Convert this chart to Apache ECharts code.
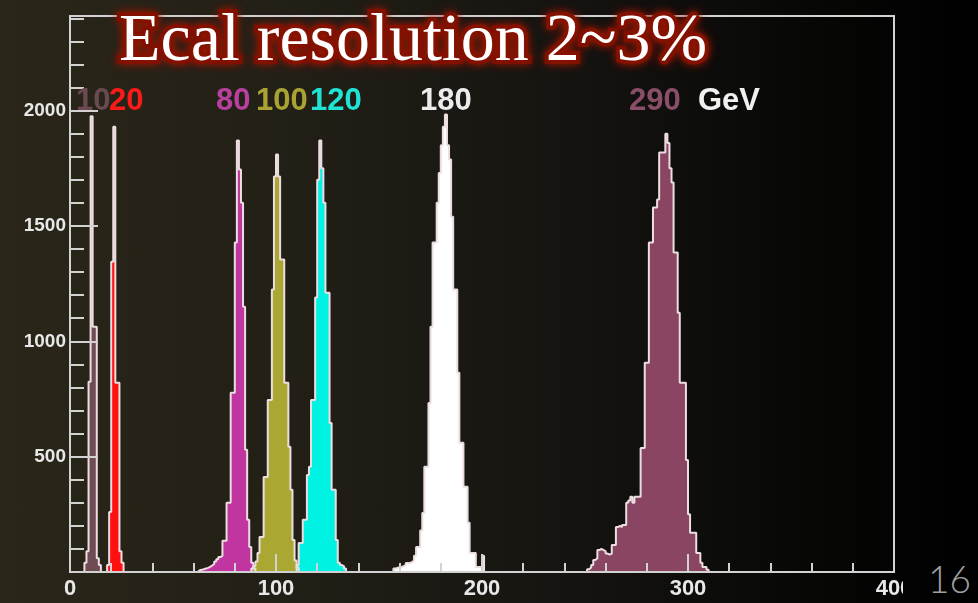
<!DOCTYPE html>
<html>
<head>
<meta charset="utf-8">
<script src="https://cdn.jsdelivr.net/npm/echarts@6/dist/echarts.min.js"></script>
<style>
  html, body { margin: 0; padding: 0; width: 978px; height: 603px; overflow: hidden;
    background: linear-gradient(to right, #2a2619 0%, #221f16 30%, #141310 60%, #060605 85%, #000 100%); }
  #chart { position: absolute; left: 0; top: 0; width: 903px; height: 603px; }
  #pageNo { position: absolute; left: 928px; top: 556px; font: 300 37px Lato, Roboto, sans-serif; color: #a0a0a0; }
</style>
</head>
<body>
<div id="chart"></div>
<div id="pageNo">16</div>
<script>
// Energy histograms, 1 GeV bins. Each beam energy: first bin (GeV) and counts per bin.
const beamLabels = ['10', '20', '80', '100', '120', '180', '290'];

const start10 = 7;
const counts10 = [40, 90, 825, 1975, 1063, 1063, 60, 30];

const start20 = 18;
const counts20 = [30, 260, 1345, 1930, 820, 820, 90, 40];

const start80 = 62;
const counts80 = [8, 10, 12, 15, 18, 22, 28, 35, 45, 55, 65, 70, 135, 135, 300, 300,
  777, 777, 1428, 1870, 1745, 1600, 1150, 530, 226, 108, 40, 15];

const start100 = 88;
const counts100 = [15, 25, 45, 82, 152, 152, 412, 412, 746, 746, 1224, 1714, 1810,
  1714, 1354, 1354, 820, 820, 543, 356, 139, 50, 20];

const start120 = 110;
const counts120 = [30, 126, 126, 226, 226, 420, 456, 746, 746, 1190, 1700, 1870, 1750,
  1600, 1210, 1210, 646, 356, 356, 139, 40, 30, 25, 15];

const start180 = 157;
const counts180 = [15, 18, 20, 22, 25, 30, 39, 39, 42, 50, 70, 108, 108, 180, 256, 456,
  456, 733, 1063, 1428, 1428, 1600, 1730, 1850, 1930, 1983, 1850, 1788, 1540, 1224,
  1224, 864, 560, 560, 369, 369, 213, 82, 82, 82, 22, 22, 22, 70];

const start290 = 251;
const counts290 = [12, 20, 30, 52, 60, 95, 100, 95, 90, 80, 75, 80, 117, 117, 195, 200,
  195, 204, 204, 300, 310, 326, 300, 326, 326, 326, 538, 538, 907, 907, 1428, 1428,
  1580, 1580, 1615, 1818, 1818, 1818, 1900, 1860, 1750, 1688, 1385, 1385, 1124, 820,
  820, 820, 486, 250, 170, 170, 170, 82, 82, 40, 22, 22, 10];

const xTicks = [0, 100, 200, 300, 400];
const yTicks = [500, 1000, 1500, 2000];

const fills = ['#6f4c55', '#ff1010', '#c0359f', '#aaa833', '#00f3e2', '#ffffff', '#8a4562'];
const labelColors = ['#6a4a50', '#ff1a1a', '#b8409f', '#a8a332', '#1fe3d3', '#ececec', '#8a4f68'];
const outline = '#ecdde1';

// Build bin-edge points for a stepped outline closed at zero on both sides.
function histPoints(start, counts) {
  const pts = [[start - 1, 0]];
  counts.forEach((c, i) => pts.push([start + i, c]));
  pts.push([start + counts.length, 0]);
  return pts;
}

const hists = [
  [start10, counts10], [start20, counts20], [start80, counts80], [start100, counts100],
  [start120, counts120], [start180, counts180], [start290, counts290]
];

const series = hists.map((h, i) => ({
  name: beamLabels[i] + ' GeV',
  type: 'line',
  step: 'end',
  symbol: 'none',
  silent: true,
  data: histPoints(h[0], h[1]),
  lineStyle: { color: outline, width: 2 },
  areaStyle: { color: fills[i], opacity: 1 }
}));

// Beam energy labels across the top of the frame
const labelX = [76, 109, 216, 256, 310, 420, 629];
const graphics = beamLabels.map((t, i) => ({
  type: 'text', left: labelX[i], top: 86, z: 20,
  style: { text: t, fill: labelColors[i], font: 'bold 31px "Liberation Sans", Arial, sans-serif' }
}));
graphics.push({
  type: 'text', left: 698, top: 86, z: 20,
  style: { text: 'GeV', fill: '#f0f0f0', font: 'bold 31px "Liberation Sans", Arial, sans-serif' }
});

const axisColor = '#d2d2d2';
const chart = echarts.init(document.getElementById('chart'), null, { renderer: 'canvas' });
chart.setOption({
  animation: false,
  backgroundColor: 'transparent',
  title: {
    text: 'Ecal resolution 2~3%',
    left: 114, top: 3,
    textStyle: {
      fontFamily: '"Liberation Serif", "DejaVu Serif", serif',
      fontSize: 68, fontWeight: 'normal', color: '#ffffff',
      textBorderColor: '#7d1000', textBorderWidth: 8,
      textShadowColor: '#9a1800', textShadowBlur: 10
    },
    z: 30
  },
  graphic: graphics,
  grid: {
    left: 70, right: 9, top: 16, bottom: 31,
    containLabel: false, outerBoundsMode: 'none',
    show: true, borderColor: axisColor, borderWidth: 2, backgroundColor: 'transparent'
  },
  xAxis: {
    type: 'value', min: xTicks[0], max: xTicks[xTicks.length - 1], interval: 100, z: 5,
    axisLine: { lineStyle: { color: axisColor, width: 2 } },
    axisTick: { inside: true, length: 18, lineStyle: { color: axisColor, width: 2 } },
    minorTick: { show: true, splitNumber: 5, length: 9, lineStyle: { color: axisColor, width: 2 } },
    splitLine: { show: false },
    axisLabel: { color: '#e8e8e8', fontSize: 22, fontWeight: 'bold', hideOverlap: false,
      fontFamily: '"Liberation Sans", Arial, sans-serif', margin: 6 }
  },
  yAxis: [
    {
      type: 'value', min: 0, max: 2410, interval: 100, position: 'left', z: 5,
      axisLine: { show: true, lineStyle: { color: axisColor, width: 2 } },
      axisTick: { inside: true, length: 14, lineStyle: { color: axisColor, width: 2 } },
      axisLabel: { show: false },
      splitLine: { show: false }
    },
    {
      type: 'value', min: 0, max: 2410, interval: 500, position: 'left', z: 5,
      axisLine: { show: false },
      axisTick: { inside: true, length: 28, lineStyle: { color: axisColor, width: 2 } },
      axisLabel: { color: '#e8e8e8', fontSize: 19, fontWeight: 'bold', margin: 4,
        fontFamily: '"Liberation Sans", Arial, sans-serif',
        showMinLabel: false, showMaxLabel: false,
        formatter: v => (yTicks.indexOf(v) >= 0 ? String(v) : '') },
      splitLine: { show: false }
    }
  ],
  series: series
});
</script>
</body>
</html>
